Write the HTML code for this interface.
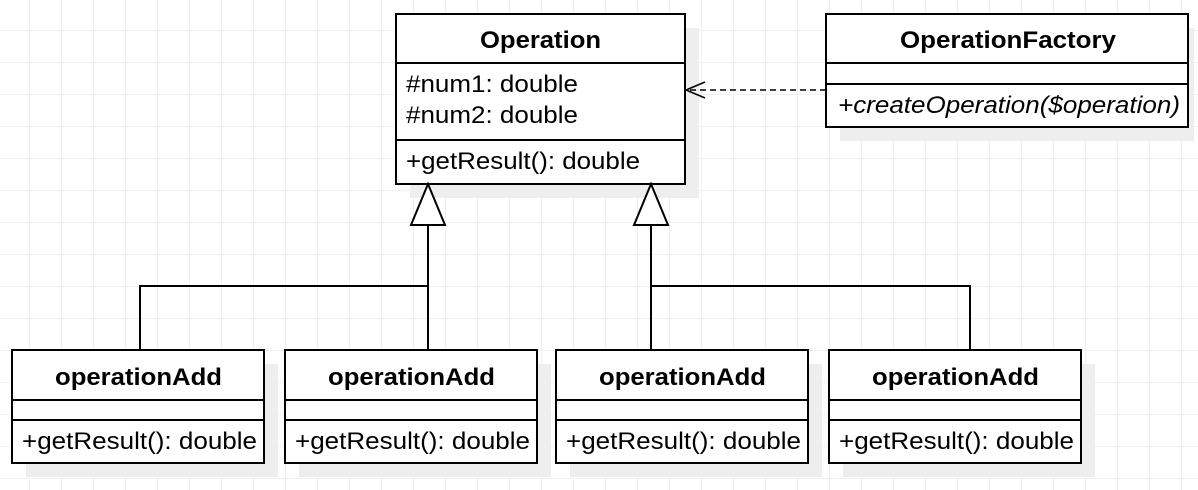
<!DOCTYPE html>
<html><head><style>
html,body{margin:0;padding:0;background:#fff}
body{width:1198px;height:490px;overflow:hidden;
background-image:linear-gradient(#f0f0f0 1px,transparent 1px),linear-gradient(90deg,#f0f0f0 1px,transparent 1px);
background-size:32px 32px;background-position:29px 30px}
svg{position:absolute;left:0;top:0}
text{font-family:"Liberation Sans",Arial,sans-serif;font-size:24px;fill:#000}
.b{font-weight:bold}
</style></head><body>
<svg width="1198" height="490" viewBox="0 0 1198 490">
<g fill="#eeeeee">
<rect x="410" y="28" width="289" height="170"/>
<rect x="840" y="28" width="354" height="113"/>
<rect x="26" y="364" width="252" height="113"/>
<rect x="299" y="364" width="252" height="113"/>
<rect x="570" y="364" width="252" height="113"/>
<rect x="843" y="364" width="252" height="113"/>
</g>
<g stroke="#000" stroke-width="2" fill="#fff">
<rect x="396" y="14" width="289" height="170"/>
<line x1="396" y1="63" x2="685" y2="63"/>
<line x1="396" y1="140" x2="685" y2="140"/>
<rect x="826" y="14" width="362" height="113"/>
<line x1="826" y1="63" x2="1188" y2="63"/>
<line x1="826" y1="84" x2="1188" y2="84"/>
<rect x="12" y="350" width="252" height="113"/>
<line x1="12" y1="400" x2="264" y2="400"/><line x1="12" y1="420" x2="264" y2="420"/>
<rect x="285" y="350" width="252" height="113"/>
<line x1="285" y1="400" x2="537" y2="400"/><line x1="285" y1="420" x2="537" y2="420"/>
<rect x="556" y="350" width="252" height="113"/>
<line x1="556" y1="400" x2="808" y2="400"/><line x1="556" y1="420" x2="808" y2="420"/>
<rect x="829" y="350" width="252" height="113"/>
<line x1="829" y1="400" x2="1081" y2="400"/><line x1="829" y1="420" x2="1081" y2="420"/>
</g>
<g stroke="#000" stroke-width="2" fill="none">
<polyline points="428,225 428,350"/>
<polyline points="428,286 140,286 140,350"/>
<polyline points="651,225 651,350"/>
<polyline points="651,286 970,286 970,350"/>
<polygon points="428,184 411,225 445,225" fill="#fff"/>
<polygon points="651,184 634,225 668,225" fill="#fff"/>
<line x1="826" y1="90" x2="687" y2="90" stroke-dasharray="6,4" stroke-width="1.5"/>
<polyline points="705,82 686,90 705,98" stroke-width="1.5"/>
</g>
<g lengthAdjust="spacingAndGlyphs">
<text class="b" x="480" y="48" textLength="121" lengthAdjust="spacingAndGlyphs">Operation</text>
<text x="406" y="92" textLength="172" lengthAdjust="spacingAndGlyphs">#num1: double</text>
<text x="406" y="123" textLength="172" lengthAdjust="spacingAndGlyphs">#num2: double</text>
<text x="406" y="169" textLength="234" lengthAdjust="spacingAndGlyphs">+getResult(): double</text>
<text class="b" x="900" y="48" textLength="216" lengthAdjust="spacingAndGlyphs">OperationFactory</text>
<text x="838" y="113" font-style="italic" textLength="342" lengthAdjust="spacingAndGlyphs">+createOperation($operation)</text>
<text class="b" x="55" y="385" textLength="167" lengthAdjust="spacingAndGlyphs">operationAdd</text>
<text x="22" y="449" textLength="235" lengthAdjust="spacingAndGlyphs">+getResult(): double</text>
<text class="b" x="328" y="385" textLength="167" lengthAdjust="spacingAndGlyphs">operationAdd</text>
<text x="295" y="449" textLength="235" lengthAdjust="spacingAndGlyphs">+getResult(): double</text>
<text class="b" x="599" y="385" textLength="167" lengthAdjust="spacingAndGlyphs">operationAdd</text>
<text x="566" y="449" textLength="235" lengthAdjust="spacingAndGlyphs">+getResult(): double</text>
<text class="b" x="872" y="385" textLength="167" lengthAdjust="spacingAndGlyphs">operationAdd</text>
<text x="839" y="449" textLength="235" lengthAdjust="spacingAndGlyphs">+getResult(): double</text>
</g>
</svg>
</body></html>
